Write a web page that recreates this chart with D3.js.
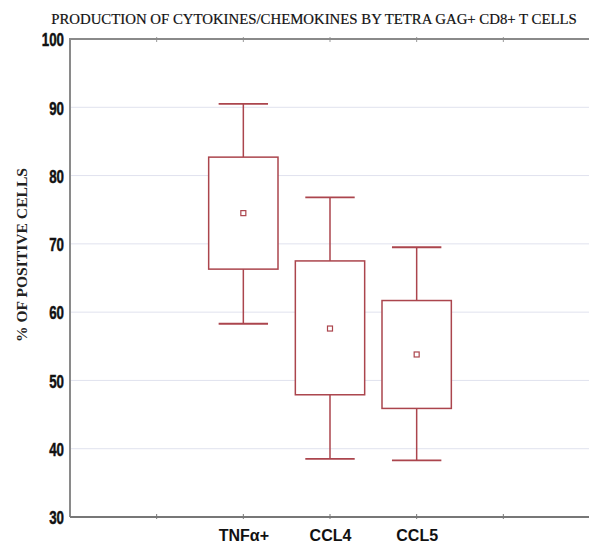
<!DOCTYPE html>
<html>
<head>
<meta charset="utf-8">
<script src="https://cdn.jsdelivr.net/npm/d3@7"></script>
<style>
  body { margin: 0; background: #fff; }
</style>
</head>
<body>
<div id="chart"></div>
<script>
// box plot values
var categories = ["TNF\u03b1+", "CCL4", "CCL5"];
var whiskerHigh = [90.5, 76.8, 69.5];
var boxHigh = [82.7, 67.5, 61.7];
var means = [74.5, 57.6, 53.8];
var boxLow = [66.3, 47.9, 45.9];
var whiskerLow = [58.3, 38.5, 38.3];
var yTicks = [30, 40, 50, 60, 70, 80, 90, 100];
var xSlots = [1, 2, 3, 4, 5]; // small ticks along the frame

var title = "PRODUCTION OF CYTOKINES/CHEMOKINES BY TETRA GAG+ CD8+ T CELLS";
var yLabel = "% OF POSITIVE CELLS";

var data = categories.map((c, i) => ({
  name: c,
  pos: i + 2,
  wHi: whiskerHigh[i],
  bHi: boxHigh[i],
  mean: means[i],
  bLo: boxLow[i],
  wLo: whiskerLow[i]
}));

var W = 589, H = 546;
var margin = { top: 39, right: -1, bottom: 29, left: 70 };
var width = W - margin.left - margin.right;
var height = H - margin.top - margin.bottom;

var red = "#ab454d";

var svg = d3.select("#chart")
  .append("svg")
  .attr("width", W)
  .attr("height", H);

var g = svg.append("g")
  .attr("transform", "translate(" + margin.left + "," + margin.top + ")");

var x = d3.scaleLinear().domain([0, 6]).range([0, width]);
var y = d3.scaleLinear().domain([30, 100]).range([height, 0]);

// faint grid
g.selectAll(".grid")
  .data(yTicks.filter(d => d > 30 && d < 100))
  .enter().append("line")
  .attr("class", "grid")
  .attr("x1", 0)
  .attr("x2", width)
  .attr("y1", d => y(d))
  .attr("y2", d => y(d))
  .attr("stroke", "#e0e2ee")
  .attr("stroke-width", 1);

// y axis
var yAxis = g.append("g")
  .call(d3.axisLeft(y).tickValues(yTicks).tickSize(0).tickPadding(6));
yAxis.select(".domain").remove();
yAxis.selectAll("text")
  .attr("font-family", "Liberation Sans, Arial, sans-serif")
  .attr("font-weight", "bold")
  .attr("font-size", 19)
  .attr("fill", "#111")
  .attr("stroke", "#111")
  .attr("stroke-width", 0.5)
  .attr("dy", "0.36em")
  .attr("textLength", d => String(d).length * 7.4)
  .attr("lengthAdjust", "spacingAndGlyphs");

// x axis (category labels)
var xAxis = g.append("g")
  .attr("transform", "translate(0," + height + ")")
  .call(d3.axisBottom(x).tickValues(data.map(d => d.pos))
    .tickFormat((d, i) => categories[i]).tickSize(0).tickPadding(13));
xAxis.select(".domain").remove();
xAxis.selectAll("text")
  .attr("font-family", "Liberation Sans, Arial, sans-serif")
  .attr("font-weight", "bold")
  .attr("font-size", 16)
  .attr("fill", "#111")
  .attr("dy", "0.71em");

// frame ticks
g.selectAll(".tickB")
  .data(xSlots)
  .enter().append("line")
  .attr("x1", d => x(d)).attr("x2", d => x(d))
  .attr("y1", height - 3).attr("y2", height + 2)
  .attr("stroke", "#777");
g.selectAll(".tickT")
  .data(xSlots)
  .enter().append("line")
  .attr("x1", d => x(d)).attr("x2", d => x(d))
  .attr("y1", -2).attr("y2", 3)
  .attr("stroke", "#999");

// frame: left, top, bottom
g.append("path")
  .attr("d", "M0," + height + "V0H" + width)
  .attr("fill", "none")
  .attr("stroke", "#8a8a8a")
  .attr("stroke-width", 2);
g.append("line")
  .attr("x1", 0).attr("x2", width)
  .attr("y1", height).attr("y2", height)
  .attr("stroke", "#777")
  .attr("stroke-width", 2);

// boxes
var bw = x(0.8) - x(0);
var cw = x(0.57) - x(0);

var boxes = g.selectAll(".box")
  .data(data)
  .enter().append("g")
  .attr("class", "box");

boxes.append("line")
  .attr("x1", d => x(d.pos)).attr("x2", d => x(d.pos))
  .attr("y1", d => y(d.wHi)).attr("y2", d => y(d.bHi))
  .attr("stroke", red).attr("stroke-width", 1.5);
boxes.append("line")
  .attr("x1", d => x(d.pos)).attr("x2", d => x(d.pos))
  .attr("y1", d => y(d.bLo)).attr("y2", d => y(d.wLo))
  .attr("stroke", red).attr("stroke-width", 1.5);
boxes.append("line")
  .attr("x1", d => x(d.pos) - cw / 2).attr("x2", d => x(d.pos) + cw / 2)
  .attr("y1", d => y(d.wHi)).attr("y2", d => y(d.wHi))
  .attr("stroke", red).attr("stroke-width", 1.8);
boxes.append("line")
  .attr("x1", d => x(d.pos) - cw / 2).attr("x2", d => x(d.pos) + cw / 2)
  .attr("y1", d => y(d.wLo)).attr("y2", d => y(d.wLo))
  .attr("stroke", red).attr("stroke-width", 1.8);
boxes.append("rect")
  .attr("x", d => x(d.pos) - bw / 2)
  .attr("width", bw)
  .attr("y", d => y(d.bHi))
  .attr("height", d => y(d.bLo) - y(d.bHi))
  .attr("fill", "#fff")
  .attr("stroke", red)
  .attr("stroke-width", 1.5);
boxes.append("rect")
  .attr("x", d => x(d.pos) - 2.5)
  .attr("y", d => y(d.mean) - 2.5)
  .attr("width", 5)
  .attr("height", 5)
  .attr("fill", "#fff")
  .attr("stroke", red)
  .attr("stroke-width", 1.2);

// title
svg.append("text")
  .attr("x", 314)
  .attr("y", 24)
  .attr("text-anchor", "middle")
  .attr("font-family", "Liberation Serif, Times New Roman, serif")
  .attr("font-size", 14.8)
  .attr("fill", "#111")
  .attr("stroke", "#111")
  .attr("stroke-width", 0.2)
  .text(title);

// y label
svg.append("text")
  .attr("transform", "translate(27,255) rotate(-90)")
  .attr("text-anchor", "middle")
  .attr("font-family", "Liberation Serif, Times New Roman, serif")
  .attr("font-weight", "bold")
  .attr("font-size", 15)
  .attr("fill", "#222")
  .attr("textLength", 174)
  .attr("lengthAdjust", "spacingAndGlyphs")
  .text(yLabel);
</script>
</body>
</html>
